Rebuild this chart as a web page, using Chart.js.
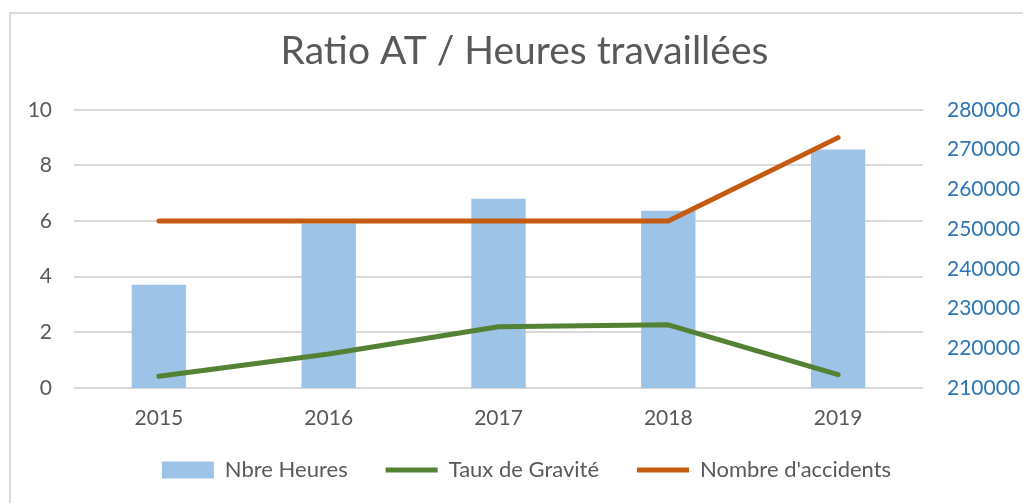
<!DOCTYPE html>
<html>
<head>
<meta charset="utf-8">
<script src="https://cdn.jsdelivr.net/npm/chart.js@4.4.1/dist/chart.umd.min.js"></script>
<style>
  html, body { margin: 0; padding: 0; background: #fff; overflow: hidden; }
  #wrap { position: absolute; left: 0; top: 0; width: 1023px; height: 503px; }
  #frame { position: absolute; left: 9px; top: 12px; width: 1100px; height: 600px; border-left: 2px solid #d9d9d9; border-top: 2px solid #d9d9d9; }
  canvas { position: absolute; left: 0; top: 0; }
</style>
</head>
<body>
<div id="wrap">
  <div id="frame"></div>
  <canvas id="c" width="1023" height="503"></canvas>
</div>
<script>
const years = ['2015', '2016', '2017', '2018', '2019'];
const nbreHeures = [236000, 251400, 257600, 254600, 270000];
const tauxGravite = [0.42, 1.22, 2.2, 2.27, 0.48];
const nombreAccidents = [6, 6, 6, 6, 9];
const leftTicks = [0, 2, 4, 6, 8, 10];
const rightTicks = [210000, 220000, 230000, 240000, 250000, 260000, 270000, 280000];

const FONT = 'Lato';
const GREY = '#595959';

// The original chart frame extends past the right edge, so title and legend sit slightly right of centre.
const shiftPlugin = {
  id: 'shiftBlocks',
  afterLayout(chart) {
    const l = chart.legend;
    if (l) { l.top -= 12; l.bottom -= 12; l.left += 15; l.right += 15; }
    const t = chart.titleBlock;
    if (t) { t.left += 13; t.right += 13; }
  }
};

new Chart(document.getElementById('c'), {
  type: 'bar',
  data: {
    labels: years,
    datasets: [
      {
        type: 'bar', label: 'Nbre Heures', data: nbreHeures, yAxisID: 'y1',
        backgroundColor: '#9DC3E6', borderWidth: 0, order: 3,
        barPercentage: 0.32, categoryPercentage: 1, pointStyle: 'rect'
      },
      {
        type: 'line', label: 'Taux de Gravité', data: tauxGravite, yAxisID: 'y',
        borderColor: '#548235', backgroundColor: '#548235', borderWidth: 5,
        pointRadius: 0, borderCapStyle: 'round', borderJoinStyle: 'round',
        tension: 0, order: 2, pointStyle: 'line'
      },
      {
        type: 'line', label: "Nombre d'accidents", data: nombreAccidents, yAxisID: 'y',
        borderColor: '#C55A11', backgroundColor: '#C55A11', borderWidth: 5,
        pointRadius: 0, borderCapStyle: 'round', borderJoinStyle: 'round',
        tension: 0, order: 1, pointStyle: 'line'
      }
    ]
  },
  plugins: [shiftPlugin],
  options: {
    responsive: false,
    animation: false,
    layout: { padding: { top: 0, bottom: 0, left: 0, right: 0 } },
    plugins: {
      tooltip: { enabled: false },
      title: {
        display: true, text: 'Ratio AT / Heures travaillées',
        color: GREY, font: { family: FONT, size: 39, weight: 'normal' },
        padding: { top: 28, bottom: 35 }
      },
      legend: {
        position: 'bottom',
        labels: {
          usePointStyle: true, pointStyleWidth: 52, boxHeight: 17,
          color: GREY, font: { family: FONT, size: 22 }, padding: 38,
          sort: (a, b) => a.datasetIndex - b.datasetIndex
        }
      }
    },
    scales: {
      x: {
        offset: true,
        grid: { display: false },
        border: { display: false },
        afterFit: (s) => { s.height = 45; },
        ticks: { color: GREY, font: { family: FONT, size: 21 }, padding: 10 }
      },
      y: {
        position: 'left', min: 0, max: 10,
        afterBuildTicks: (s) => { s.ticks = leftTicks.map(v => ({ value: v })); },
        afterFit: (s) => { s.width = 74; },
        grid: { color: '#d9d9d9', lineWidth: 2, drawTicks: false },
        border: { display: false },
        ticks: { color: GREY, font: { family: FONT, size: 21 }, padding: 22 }
      },
      y1: {
        position: 'right', min: 210000, max: 280000,
        afterBuildTicks: (s) => { s.ticks = rightTicks.map(v => ({ value: v })); },
        afterFit: (s) => { s.width = 100; },
        grid: { display: false, drawTicks: false },
        border: { display: false },
        ticks: { color: '#2E75B6', font: { family: FONT, size: 21 }, padding: 24,
                 callback: (v) => String(v) }
      }
    }
  }
});
</script>
</body>
</html>
